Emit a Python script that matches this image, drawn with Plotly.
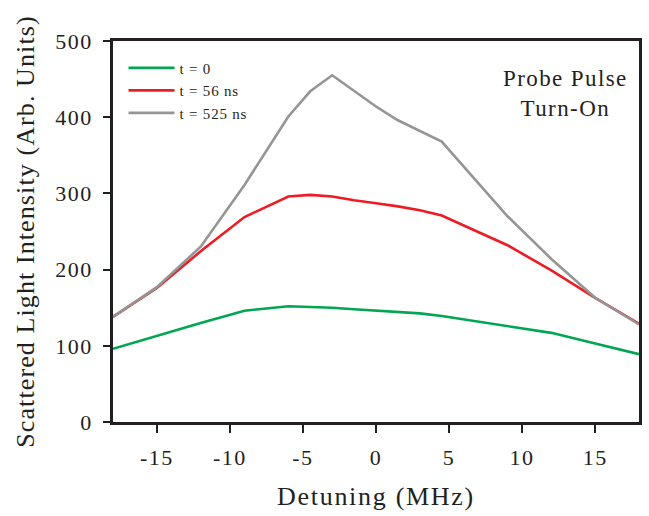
import plotly.graph_objects as go

# Detuning grid (MHz)
detuning = [-18, -15, -12, -9, -6, -4.5, -3, -1.5, 0, 1.5, 3, 4.5, 9, 12, 15, 18]

# Scattered light intensity (arb. units) at three times after probe turn-on
t0 = [96, 113, 130, 146, 152, 151, 150, 148, 146, 144, 142.5, 139, 126, 117, 103, 89]
t56 = [138, 176, 224, 269, 296, 298, 296, 291, 287, 283, 278, 271, 232, 199, 163, 129]
t525 = [138, 177, 230, 311, 401, 434, 455, 434, 414, 396, 382, 368, 270, 214, 163, 128]

series_names = ["t = 0", "t = 56 ns", "t = 525 ns"]
series_colors = ["#00a651", "#ed1c24", "#959595"]

x_tickvals = [-15, -10, -5, 0, 5, 10, 15]
x_ticktext = ["-15", "-10", "-5", "0", "5", "10", "15"]
y_tickvals = [0, 100, 200, 300, 400, 500]
y_ticktext = ["0", "100", "200", "300", "400", "500"]

SERIF = "Liberation Serif, Times New Roman, serif"
INK = "#231f20"


def spaced(text, px):
    """Wrap text in a span with extra letter spacing."""
    return f'<span style="letter-spacing:{px}px">{text}</span>'


fig = go.Figure()
for name, ys, color in zip(series_names, [t0, t56, t525], series_colors):
    fig.add_trace(go.Scatter(
        x=detuning, y=ys, mode="lines", name=spaced(name, 0.8),
        line=dict(color=color, width=2.6),
    ))

fig.add_annotation(
    x=0.86, y=0.94, xref="paper", yref="paper",
    text=spaced("Probe Pulse", 1.4) + "<br>" + spaced("Turn-On", 1.4),
    showarrow=False,
    font=dict(family=SERIF, size=23, color=INK),
    align="center", xanchor="center", yanchor="top",
)

axis_common = dict(
    showline=True, linewidth=2.5, linecolor=INK, mirror=True,
    ticks="outside", tickcolor=INK, tickwidth=2,
    showgrid=False, zeroline=False,
    tickfont=dict(family=SERIF, size=22, color=INK),
)

fig.update_layout(
    width=649, height=516,
    margin=dict(l=113, r=7, t=41, b=94),
    plot_bgcolor="white", paper_bgcolor="white",
    showlegend=True,
    legend=dict(
        x=0.02, y=0.972, xanchor="left", yanchor="top",
        bgcolor="rgba(0,0,0,0)",
        font=dict(family=SERIF, size=15, color=INK),
        itemwidth=46, tracegroupgap=0,
    ),
    xaxis=dict(
        range=[-18, 18], tickvals=x_tickvals,
        ticktext=[spaced(t, 1.5) for t in x_ticktext],
        ticklen=8, ticklabelstandoff=6,
        title=dict(text=spaced("Detuning (MHz)", 1.7), standoff=18,
                   font=dict(family=SERIF, size=26, color=INK)),
        **axis_common,
    ),
    yaxis=dict(
        range=[0, 500], tickvals=y_tickvals,
        ticktext=[spaced(t, 1.5) for t in y_ticktext],
        ticklen=7, ticklabelstandoff=6,
        title=dict(text=spaced("Scattered Light Intensity (Arb. Units)", 1.1),
                   standoff=14,
                   font=dict(family=SERIF, size=26, color=INK)),
        **axis_common,
    ),
)

fig.write_html("out.html")
